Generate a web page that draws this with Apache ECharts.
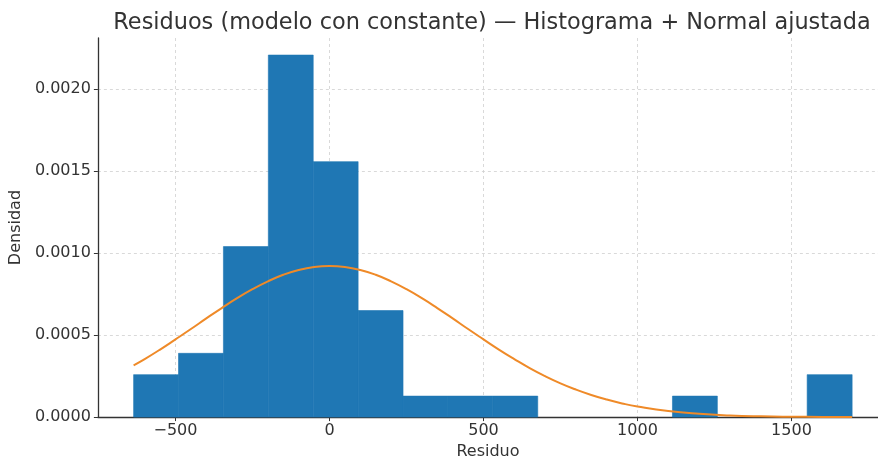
<!DOCTYPE html>
<html>
<head>
<meta charset="utf-8">
<script src="https://cdn.jsdelivr.net/npm/echarts@6/dist/echarts.min.js"></script>
<style>html,body{margin:0;padding:0;background:#fff}#c{width:878px;height:465px}</style>
</head>
<body>
<div id="c"></div>
<script>
// Histogram bin edges (residual units)
var binEdges = [-636, -490.2, -344.4, -198.6, -52.8, 93, 238.8, 384.6, 530.4, 676.2, 822, 967.8, 1113.6, 1259.4, 1405.2, 1551, 1697];
// Density of each bin
var binDensity = [0.000259, 0.000389, 0.00104, 0.002208, 0.001558, 0.00065, 0.000128, 0.000128, 0.000128, 0, 0, 0, 0.000128, 0, 0, 0.000259];
// Fitted normal curve
var curveX = [-636, -600, -550, -500, -450, -400, -350, -300, -250, -200, -150, -100, -50, 0, 50, 100, 150, 200, 250, 300, 350, 400, 450, 500, 550, 600, 650, 700, 750, 800, 850, 900, 950, 1000, 1100, 1200, 1300, 1400, 1500, 1600, 1697];
var curveY = [0.000316, 0.000354, 0.000412, 0.000474, 0.000537, 0.000602, 0.000665, 0.000725, 0.00078, 0.000828, 0.000868, 0.000897, 0.000915, 0.000921, 0.000915, 0.000897, 0.000868, 0.000828, 0.00078, 0.000725, 0.000665, 0.000602, 0.000537, 0.000474, 0.000412, 0.000354, 0.000299, 0.00025, 0.000206, 0.000168, 0.000135, 0.000107, 0.0000835, 0.0000645, 0.0000365, 0.0000198, 0.0000101, 0.0000049, 0.0000023, 0.000001, 0.0000003];
var xTicks = [-500, 0, 500, 1000, 1500];
var yTicks = [0, 0.0005, 0.001, 0.0015, 0.002];

var barData = binDensity.map(function (d, i) { return [binEdges[i], binEdges[i + 1], d]; });
var lineData = curveX.map(function (x, i) { return [x, curveY[i]]; });

var font = 'DejaVu Sans';
var chart = echarts.init(document.getElementById('c'), null, {renderer: 'canvas'});
chart.setOption({
  animation: false,
  backgroundColor: '#ffffff',
  title: {
    text: 'Residuos (modelo con constante) — Histograma + Normal ajustada',
    left: 487, top: 7, textAlign: 'center',
    textStyle: {fontFamily: font, fontSize: 22.4, fontWeight: 'normal', color: '#333333'}
  },
  grid: {left: 97, right: 0, top: 38, bottom: 47, containLabel: false},
  xAxis: {
    type: 'value', min: -752, max: 1781,
    name: 'Residuo', nameLocation: 'middle', nameGap: 26,
    nameTextStyle: {fontFamily: font, fontSize: 16, color: '#333333'},
    axisLine: {show: true, onZero: false, lineStyle: {color: '#333333', width: 1.3}},
    axisTick: {show: true, inside: false, length: 4, customValues: xTicks, lineStyle: {color: '#333333'}},
    axisLabel: {customValues: xTicks, fontFamily: font, fontSize: 16, color: '#333333', margin: 6,
      formatter: function (v) { return v < 0 ? '\u2212' + Math.abs(v) : String(v); }},
    splitLine: {show: true, lineStyle: {color: '#d0d0d0', type: [3, 3], width: 0.8}}
  },
  yAxis: {
    type: 'value', min: 0, max: 0.002312,
    name: 'Densidad', nameLocation: 'middle', nameGap: 72, nameRotate: 90,
    nameTextStyle: {fontFamily: font, fontSize: 16, color: '#333333'},
    axisLine: {show: true, onZero: false, lineStyle: {color: '#333333', width: 1.3}},
    axisTick: {show: true, inside: false, length: 4, customValues: yTicks, lineStyle: {color: '#333333'}},
    axisLabel: {customValues: yTicks, fontFamily: font, fontSize: 16, color: '#333333', margin: 7,
      formatter: function (v) { return v.toFixed(4); }},
    splitLine: {show: true, lineStyle: {color: '#d0d0d0', type: [3, 3], width: 0.8}}
  },
  series: [
    {
      type: 'custom',
      data: barData,
      encode: {x: [0, 1], y: 2},
      renderItem: function (params, api) {
        if (!(api.value(2) > 0)) { return null; }
        var p0 = api.coord([api.value(0), 0]);
        var p1 = api.coord([api.value(1), api.value(2)]);
        return {
          type: 'rect',
          shape: {x: p0[0], y: p1[1], width: p1[0] - p0[0], height: p0[1] - p1[1]},
          style: {fill: '#1f77b4', stroke: '#1f77b4', lineWidth: 0.6}
        };
      },
      z: 2
    },
    {
      type: 'line',
      data: lineData,
      smooth: true,
      showSymbol: false,
      lineStyle: {color: '#ef8a28', width: 2},
      z: 3
    }
  ]
});
</script>
</body>
</html>
